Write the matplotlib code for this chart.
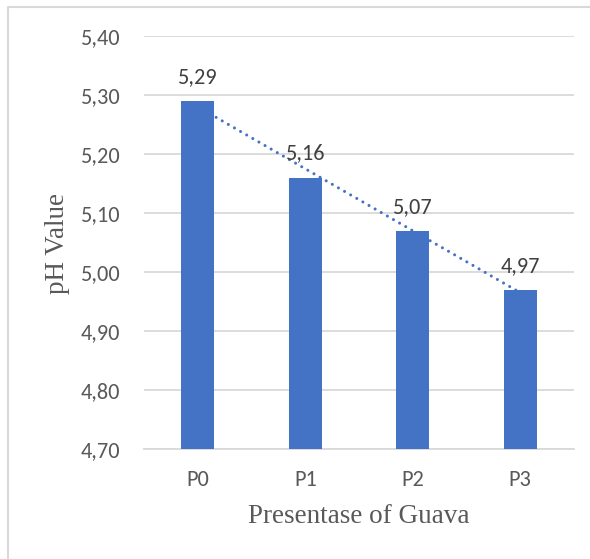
import numpy as np
import matplotlib
matplotlib.use("Agg")
import matplotlib.pyplot as plt
from matplotlib.lines import Line2D

categories = ["P0", "P1", "P2", "P3"]
ph_values = [5.29, 5.16, 5.07, 4.97]
y_ticks = [4.70, 4.80, 4.90, 5.00, 5.10, 5.20, 5.30, 5.40]

BAR = "#4472C4"
GRID = "#D9D9D9"
TICK = "#595959"
LABEL = "#404040"
sans = ["Carlito", "Open Sans", "DejaVu Sans"]
serif = ["Liberation Serif", "DejaVu Serif"]
FS = 16

fig = plt.figure(figsize=(5.90, 5.59), dpi=100)
ax = fig.add_axes([144/590, 1-449/559, (574-144)/590, (449-36)/559])

x = np.arange(len(categories))
# linear trendline (computed from data), drawn behind bars
coef = np.polyfit(x, ph_values, 1)
trend = np.polyval(coef, x)
ax.plot(x, trend, color=BAR, lw=2.2, linestyle=(0, (0.01, 2.3)),
        dash_capstyle="round", zorder=2)

bars = ax.bar(x, ph_values, width=0.31, color=BAR, zorder=3)
for xi, v in zip(x, ph_values):
    ax.annotate(f"{v:.2f}".replace(".", ","), (xi, v), xytext=(0, 13),
                textcoords="offset points", ha="center", va="baseline",
                fontsize=FS, color=LABEL, family=sans, zorder=4)

ax.set_xlim(-0.5, len(categories) - 0.5)
ax.set_ylim(y_ticks[0], y_ticks[-1])
ax.set_yticks(y_ticks)
ax.set_yticklabels([f"{t:.2f}".replace(".", ",") for t in y_ticks],
                   fontsize=FS, color=TICK, family=sans)
ax.set_xticks(x)
ax.set_xticklabels(categories, fontsize=FS, color=TICK, family=sans)
ax.tick_params(axis="y", length=0, pad=17)
ax.tick_params(axis="x", length=0, pad=15)
ax.yaxis.grid(True, color=GRID, lw=1.3, zorder=0)
ax.set_axisbelow(True)
for s in ["top", "right", "left"]:
    ax.spines[s].set_visible(False)
ax.spines["bottom"].set_color(GRID)
ax.spines["bottom"].set_linewidth(1.3)

fig.text(57/590, 1-243/559, "pH Value", rotation=90, ha="center", va="center",
         fontsize=19.5, color=TICK, family=serif)
fig.text(359/590, 1-523/559, "Presentase of Guava", ha="center", va="baseline",
         fontsize=19.5, color=TICK, family=serif)

# chart border (left and top visible)
fig.add_artist(Line2D([8/590, 8/590, 1.0], [0.0, 1-7/559, 1-7/559],
                      transform=fig.transFigure, color=GRID, lw=1.5))

fig.savefig("out.png", dpi=100, facecolor="white")
